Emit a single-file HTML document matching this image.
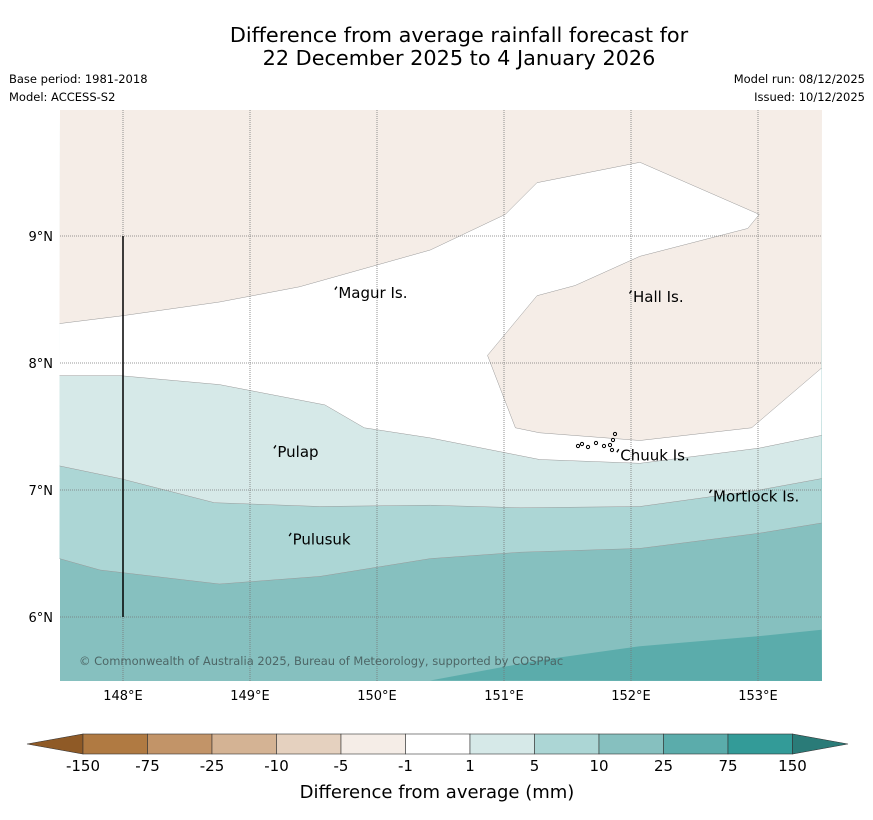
<!DOCTYPE html>
<html><head><meta charset="utf-8">
<style>
html,body{margin:0;padding:0;background:#fff;}
body{width:873px;height:816px;overflow:hidden;font-family:"DejaVu Sans","Liberation Sans",sans-serif;}
svg text{font-family:"DejaVu Sans","Liberation Sans",sans-serif;}
</style></head>
<body>
<svg id="chart" width="873" height="816" viewBox="0 0 873 816" xmlns="http://www.w3.org/2000/svg">
<text x="459" y="42" font-size="20.8" text-anchor="middle" fill="#000">Difference from average rainfall forecast for</text>
<text x="459" y="65" font-size="20.8" text-anchor="middle" fill="#000">22 December 2025 to 4 January 2026</text>
<text x="9" y="83" font-size="11.5">Base period: 1981-2018</text>
<text x="9" y="101" font-size="11.5">Model: ACCESS-S2</text>
<text x="865" y="83" font-size="11.5" text-anchor="end">Model run: 08/12/2025</text>
<text x="865" y="101" font-size="11.5" text-anchor="end">Issued: 10/12/2025</text>
<g id="plot"></g>
<g id="cbar"></g>
<text x="437" y="798" font-size="18" text-anchor="middle">Difference from average (mm)</text>
</svg>
<script>
// ---- data ----
const lonTicks = [148,149,150,151,152,153];
const latTicks = [6,7,8,9];
const brownLon = [147.5,147.98,148.76,149.39,150.42,151.01,151.26,152.07,153.01,152.92,152.07,151.56,151.26,150.87,151.09,151.28,152.07,152.95,153.5];
const brownLat = [8.31,8.37,8.48,8.6,8.89,9.17,9.42,9.58,9.17,9.06,8.84,8.61,8.53,8.06,7.49,7.45,7.39,7.49,7.96];
const b1Lon = [147.5,147.98,148.76,149.59,149.9,150.42,151.28,152.07,153.01,153.5];
const b1Lat = [7.9,7.9,7.83,7.67,7.49,7.41,7.24,7.21,7.33,7.43];
const b5Lon = [147.5,147.98,148.72,149.55,150.42,151.13,152.07,153.01,153.5];
const b5Lat = [7.19,7.09,6.9,6.87,6.88,6.86,6.87,7.0,7.09];
const b10Lon = [147.5,147.82,148.76,149.55,150.42,151.13,152.07,153.01,153.5];
const b10Lat = [6.46,6.37,6.26,6.32,6.46,6.51,6.54,6.66,6.74];
const b25Lon = [150.42,151.28,152.07,153.01,153.5];
const b25Lat = [5.5,5.66,5.77,5.85,5.9];
const places = ["Magur Is.","Hall Is.","Pulap","Chuuk Is.","Mortlock Is.","Pulusuk"];
const placeLon = [149.68,152.0,149.2,151.9,152.63,149.32];
const placeLat = [8.55,8.52,7.3,7.27,6.95,6.61];
const cbLabels = ["-150","-75","-25","-10","-5","-1","1","5","10","25","75","150"];
const cbColors = ["#b07a42","#c29468","#d4b394","#e5d1bf","#f5ede7","#ffffff","#d6e9e8","#acd6d5","#86c0bf","#5bacab","#339b98"];
// ---- axes ----
const X0=59.5, Y0=109, S=127;
const xs = lon => X0+(lon-147.5)*S;
const ys = lat => Y0+(10-lat)*S;
const NS="http://www.w3.org/2000/svg";
function mk(tag, attrs, parent){const e=document.createElementNS(NS,tag);for(const k in attrs)e.setAttribute(k,attrs[k]);parent.appendChild(e);return e;}
const plot=document.getElementById('plot');
const PL=60, PR=822, PT=110, PB=681;
let bg=mk('rect',{x:PL,y:PT,width:PR-PL,height:PB-PT,fill:'#86c0bf'},plot);


function pts(lo,la){return lo.map((v,i)=>xs(v).toFixed(1)+','+ys(la[i]).toFixed(1)).join(' ');}
function above(lo,la,fill,name){
  const p=mk('polygon',{points:PL+','+PT+' '+pts(lo,la)+' '+PR+','+PT,fill:fill},plot);
  
  
  const l=mk('polyline',{points:pts(lo,la),fill:'none',stroke:'#999',"stroke-width":0.5},plot);
  
  
}
above(b10Lon,b10Lat,'#acd6d5','region-5-10');
above(b5Lon,b5Lat,'#d6e9e8','region-1-5');
above(b1Lon,b1Lat,'#ffffff','region-neutral');
above(brownLon,brownLat,'#f5ede7','region-minus5-minus1');
let e25=mk('polygon',{points:pts(b25Lon,b25Lat)+' '+PR+','+PB,fill:'#5bacab'},plot);


lonTicks.forEach(l=>{
  const g=mk('line',{x1:xs(l),x2:xs(l),y1:PT,y2:PB,stroke:'#777',"stroke-width":0.8,"stroke-dasharray":"1,1"},plot);
  
  
  const t=mk('text',{x:xs(l),y:700,"font-size":13,"text-anchor":"middle"},plot);t.textContent=l+'°E';
  
  
});
latTicks.forEach(l=>{
  const g=mk('line',{x1:PL,x2:PR,y1:ys(l),y2:ys(l),stroke:'#777',"stroke-width":0.8,"stroke-dasharray":"1,1"},plot);
  
  
  const t=mk('text',{x:53,y:ys(l)+5,"font-size":13,"text-anchor":"end"},plot);t.textContent=l+'°N';
  
  
});
let bl=mk('line',{x1:xs(148),x2:xs(148),y1:ys(9),y2:ys(6),stroke:'#000',"stroke-width":1.5},plot);


places.forEach((n,i)=>{
  const x=xs(placeLon[i]), y=ys(placeLat[i]);
  const m=mk('path',{d:`M${x-2},${y-4} l2,-3 l1,1 l-2,3 z`,fill:'#000'},plot);
  
  
  const t=mk('text',{x:x+2,y:y+5,"font-size":15},plot);t.textContent=n;
  
  
});
[[578,446],[582,444],[588,447],[596,443],[604,446],[610,445],[613,440],[615,434],[612,450]].forEach(p=>{
  const c=mk('circle',{cx:p[0],cy:p[1],r:1.6,fill:'none',stroke:'#000',"stroke-width":1},plot);
  
  
});
let cp=mk('text',{x:79,y:665,"font-size":11.5,fill:'#4d6666'},plot);
cp.textContent='© Commonwealth of Australia 2025, Bureau of Meteorology, supported by COSPPac';


const cb=document.getElementById('cbar');
const CX0=83, CW=64.5, CY=734, CH=20;
let le=mk('polygon',{points:`${CX0},${CY} ${CX0},${CY+CH} 27,${CY+CH/2}`,fill:'#8f5a26',stroke:'#333',"stroke-width":0.6},cb);


cbColors.forEach((c,i)=>{
  const r=mk('rect',{x:CX0+i*CW,y:CY,width:CW,height:CH,fill:c,stroke:'#333',"stroke-width":0.6},cb);
  
  
});
const CX1=CX0+cbColors.length*CW;
let re=mk('polygon',{points:`${CX1},${CY} ${CX1},${CY+CH} 848,${CY+CH/2}`,fill:'#2a7b78',stroke:'#333',"stroke-width":0.6},cb);


cbLabels.forEach((l,i)=>{
  const t=mk('text',{x:CX0+i*CW,y:771,"font-size":15,"text-anchor":"middle"},cb);t.textContent=l;
  
  
});
</script>
</body></html>
